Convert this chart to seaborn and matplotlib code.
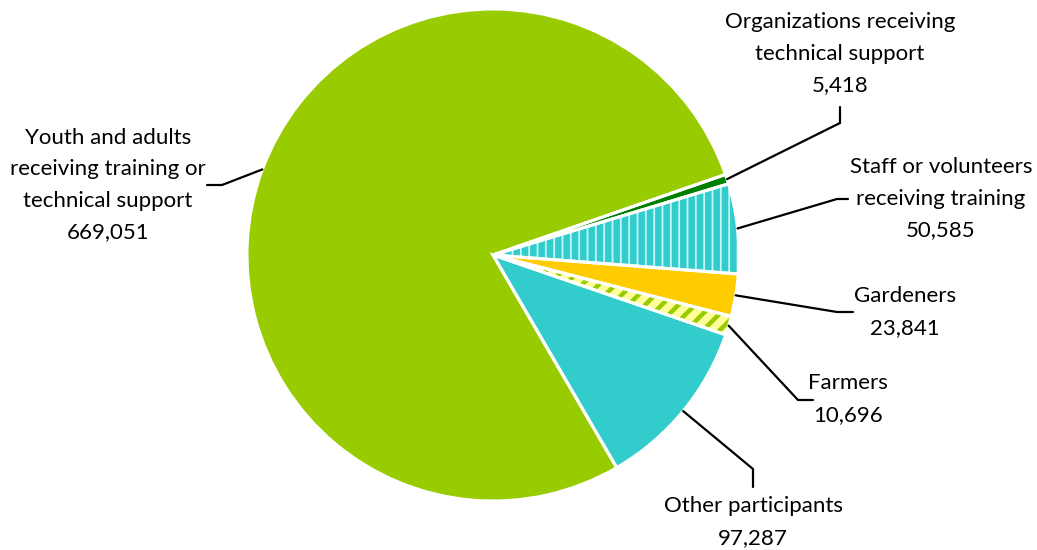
import numpy as np
import matplotlib
matplotlib.use("Agg")
import matplotlib.pyplot as plt
from matplotlib.patches import Wedge
import seaborn as sns

# ---- data ----
categories = ["Organizations receiving\ntechnical support",
              "Staff or volunteers\nreceiving training",
              "Gardeners",
              "Farmers",
              "Other participants",
              "Youth and adults\nreceiving training or\ntechnical support"]
values = [5418, 50585, 23841, 10696, 97287, 669051]
value_labels = ["5,418", "50,585", "23,841", "10,696", "97,287", "669,051"]

colors = ["#008000", "#33CCCC", "#FFCC00", "#FFFF99", "#33CCCC", "#99CC00"]
hatches = [None, "||", None, "//", None, None]
hatch_colors = [None, "#C4F6F6", None, "#99CC00", None, None]
hatch_lw = [None, 1.3, None, 3.2, None, None]

sns.set_theme(style="white")
plt.rcParams['font.family'] = ['Lato', 'DejaVu Sans']

W, H = 1037, 550
fig = plt.figure(figsize=(W / 100, H / 100), dpi=100)
ax = fig.add_axes([0, 0, 1, 1])

cx, cy, R = 493, H - 255, 246
wedges, _ = ax.pie(values, colors=colors, startangle=19.1, counterclock=False,
                   center=(cx, cy), radius=R,
                   wedgeprops=dict(linewidth=0, edgecolor="none"))

# hatch overlays
for w, h, hc, lw in zip(wedges, hatches, hatch_colors, hatch_lw):
    if h is None:
        continue
    with plt.rc_context({'hatch.linewidth': lw}):
        p = Wedge((cx, cy), R, w.theta1, w.theta2, facecolor="none",
                  edgecolor=hc, linewidth=0, hatch=h)
        if hasattr(p, "set_hatch_linewidth"):
            p.set_hatch_linewidth(lw)
    ax.add_patch(p)

# white borders
for w in wedges:
    ax.add_patch(Wedge((cx, cy), R, w.theta1, w.theta2, facecolor="none",
                       edgecolor="white", linewidth=2.2))

# label layout (pixel coords, y from top): bend point, end point, text block center
layout = [
    dict(bend=(840, 123), end=(840, 107), text=(840, 54)),
    dict(bend=(837, 199), end=(848, 199), text=(941, 199)),
    dict(bend=(837, 312), end=(853, 312), text=(905, 312)),
    dict(bend=(798, 400), end=(813, 400), text=(848, 399)),
    dict(bend=(753, 469), end=(753, 487), text=(753, 522)),
    dict(bend=(222, 185), end=(207, 185), text=(108, 185)),
]

for w, cat, vl, lay in zip(wedges, categories, value_labels, layout):
    mid = np.deg2rad((w.theta1 + w.theta2) / 2)
    sx, sy = cx + R * np.cos(mid), cy + R * np.sin(mid)
    bx, by = lay["bend"]
    ex, ey = lay["end"]
    ax.plot([sx, bx, ex], [sy, H - by, H - ey], color="black", lw=1.6,
            solid_joinstyle="miter", zorder=5)
    tx, ty = lay["text"]
    ax.text(tx, H - ty, cat + "\n" + vl, ha="center", va="center",
            multialignment="center",
            fontsize=16, color="black", linespacing=1.72, zorder=6)

ax.set_xlim(0, W)
ax.set_ylim(0, H)
ax.set_aspect("equal")
ax.axis("off")
fig.savefig("out.png", dpi=100, facecolor="white")
